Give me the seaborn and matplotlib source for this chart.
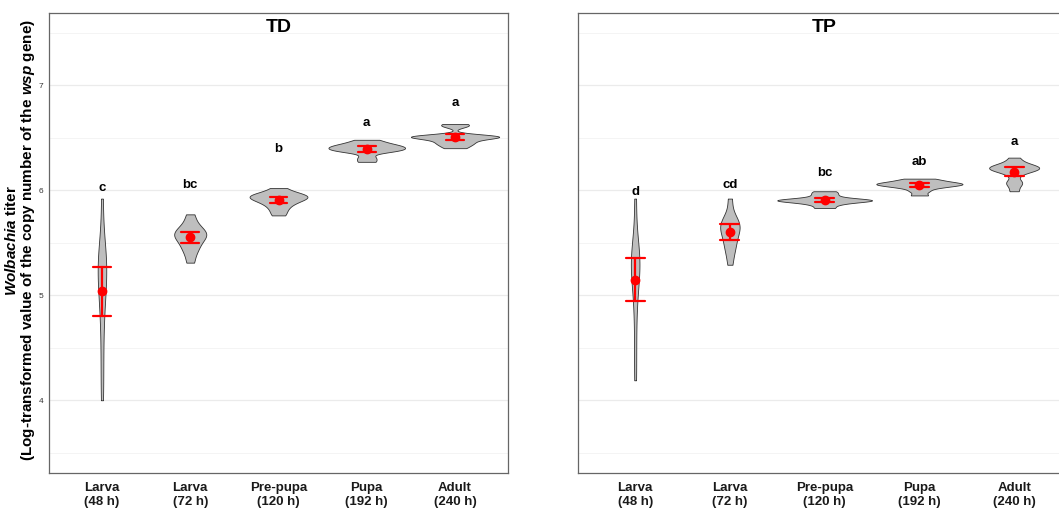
import numpy as np
import pandas as pd
import matplotlib
matplotlib.use("Agg")
import matplotlib.pyplot as plt
import seaborn as sns

# ---------------- data ----------------
stages = ["Larva\n(48 h)", "Larva\n(72 h)", "Pre-pupa\n(120 h)", "Pupa\n(192 h)", "Adult\n(240 h)"]

td_larva48 = [4.00, 4.30, 4.60, 4.85, 5.00, 5.10, 5.20, 5.27, 5.32, 5.38, 5.50, 5.92]
td_larva72 = [5.31, 5.40, 5.45, 5.49, 5.53, 5.56, 5.575, 5.59, 5.61, 5.64, 5.69, 5.77]
td_prepupa = [5.76, 5.81, 5.85, 5.88, 5.90, 5.915, 5.93, 5.94, 5.95, 5.96, 5.975, 6.02]
td_pupa = [6.27, 6.31, 6.365, 6.375, 6.385, 6.395, 6.405, 6.415, 6.425, 6.435, 6.455, 6.48]
td_adult = [6.40, 6.43, 6.45, 6.47, 6.49, 6.505, 6.51, 6.512, 6.515, 6.52, 6.61, 6.63]

tp_larva48 = [4.19, 4.50, 4.80, 5.00, 5.14, 5.21, 5.27, 5.32, 5.37, 5.45, 5.58, 5.92]
tp_larva72 = [5.29, 5.40, 5.46, 5.51, 5.56, 5.61, 5.64, 5.66, 5.68, 5.71, 5.77, 5.92]
tp_prepupa = [5.83, 5.86, 5.88, 5.89, 5.898, 5.903, 5.907, 5.912, 5.92, 5.94, 5.965, 5.99]
tp_pupa = [5.95, 5.99, 6.02, 6.035, 6.045, 6.052, 6.058, 6.064, 6.07, 6.08, 6.095, 6.11]
tp_adult = [5.99, 6.06, 6.08, 6.16, 6.19, 6.20, 6.21, 6.215, 6.22, 6.23, 6.26, 6.31]

td_letters = ["c", "bc", "b", "a", "a"]
td_letter_y = [6.02, 6.05, 6.39, 6.64, 6.83]
tp_letters = ["d", "cd", "bc", "ab", "a"]
tp_letter_y = [5.98, 6.05, 6.16, 6.27, 6.46]

panel_titles = ["TD", "TP"]


def make_df(groups):
    rows = []
    for st, vals in zip(stages, groups):
        for v in vals:
            rows.append((st, v))
    return pd.DataFrame(rows, columns=["stage", "value"])


td_df = make_df([td_larva48, td_larva72, td_prepupa, td_pupa, td_adult])
tp_df = make_df([tp_larva48, tp_larva72, tp_prepupa, tp_pupa, tp_adult])


def nrd0_factor(kde):
    """R's default bandwidth (bw.nrd0) expressed as a scipy kde factor."""
    x = np.asarray(kde.dataset).ravel()
    sd = x.std(ddof=1)
    q75, q25 = np.percentile(x, [75, 25])
    lo = min(sd, (q75 - q25) / 1.34)
    if lo <= 0:
        lo = sd
    h = 0.9 * lo * len(x) ** (-0.2)
    return h / sd


# ---------------- style ----------------
sns.set_theme(style="white")
plt.rcParams["font.family"] = ["Liberation Sans", "DejaVu Sans"]
plt.rcParams["mathtext.fontset"] = "custom"
plt.rcParams["mathtext.it"] = "Liberation Sans:italic:bold"
plt.rcParams["mathtext.rm"] = "Liberation Sans:bold"
plt.rcParams["mathtext.bf"] = "Liberation Sans:bold"

W, H = 1059, 513
fig = plt.figure(figsize=(W / 100, H / 100), dpi=100)

ax1 = fig.add_axes([49 / W, (H - 472.7) / H, 459 / W, 460 / H])
ax2 = fig.add_axes([578.3 / W, (H - 472.7) / H, 492.7 / W, 460 / H])

for ax, df, letters, ly, title in [
    (ax1, td_df, td_letters, td_letter_y, panel_titles[0]),
    (ax2, tp_df, tp_letters, tp_letter_y, panel_titles[1]),
]:
    ax.set_axisbelow(True)
    ax.set_yticks([4, 5, 6, 7])
    ax.set_yticks([3.5, 4.5, 5.5, 6.5, 7.5], minor=True)
    ax.grid(True, which="major", color="#EBEBEB", linewidth=0.9)
    ax.grid(True, which="minor", axis="y", color="#F2F2F2", linewidth=0.6)

    sns.violinplot(
        data=df, x="stage", y="value", order=stages, ax=ax,
        color="#BEBEBE", saturation=1, linecolor="#333333", linewidth=0.6,
        inner=None, cut=0, width=1.0, density_norm="area",
        bw_method=nrd0_factor, gridsize=512,
    )
    sns.pointplot(
        data=df, x="stage", y="value", order=stages, ax=ax,
        errorbar=("se", 1.5), color="red", capsize=0.2, linestyles="none",
        markersize=5, err_kws={"linewidth": 1.6},
    )

    for i, (t, y) in enumerate(zip(letters, ly)):
        ax.text(i, y, t, ha="center", va="center", fontsize=9.5, fontweight="bold", color="black")
    ax.text(2, 7.55, title, ha="center", va="center", fontsize=14, fontweight="bold", color="black")

    ax.set_xlim(-0.6, 4.6)
    ax.set_ylim(3.31, 7.69)
    ax.set_xlabel("")
    ax.set_ylabel("")
    for s in ax.spines.values():
        s.set_visible(True)
        s.set_color("#666666")
        s.set_linewidth(0.9)
    ax.tick_params(axis="both", which="major", length=3, color="#666666", width=0.8)
    ax.tick_params(axis="y", which="minor", length=0)
    ax.tick_params(axis="x", labelsize=9.5, pad=4)
    ax.tick_params(axis="y", labelsize=6, labelcolor="#333333", pad=1)
    for lab in ax.get_xticklabels():
        lab.set_fontweight("bold")
        lab.set_color("#1a1a1a")

ax2.tick_params(axis="y", labelleft=False)

fig.text(20.5 / W, 1 - 240 / H,
         "$\\mathit{Wolbachia}$ titer\n(Log-transformed value of the copy number of the $\\mathit{wsp}$ gene)",
         rotation=90, ha="center", va="center", multialignment="center",
         fontsize=11.0, fontweight="bold", color="black", linespacing=1.0)

fig.savefig("out.png", dpi=100)
